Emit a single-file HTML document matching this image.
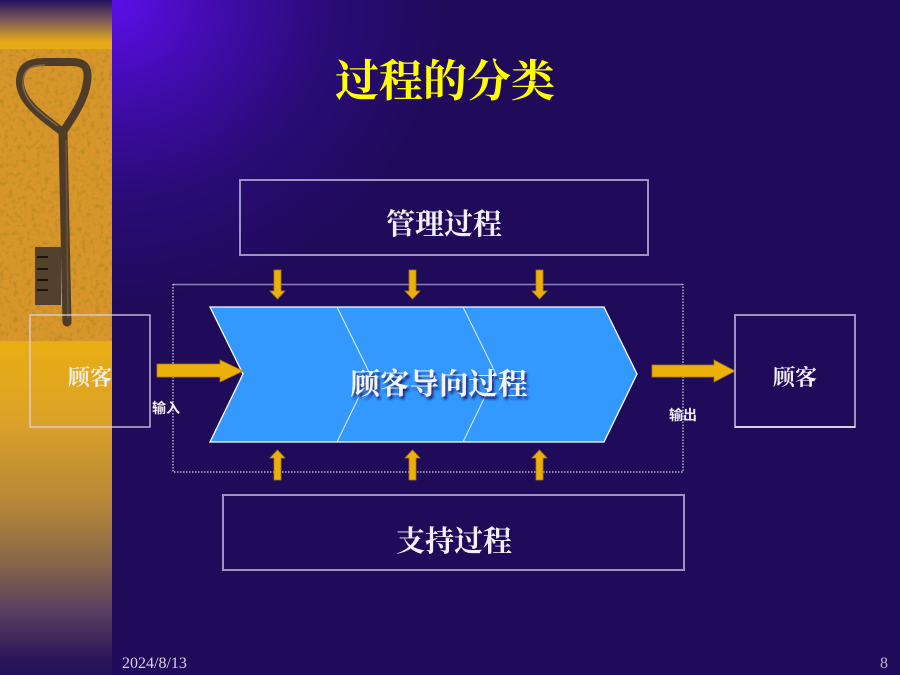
<!DOCTYPE html>
<html><head><meta charset="utf-8"><style>
html,body{margin:0;padding:0;}
body{width:900px;height:675px;overflow:hidden;background:#200b5b;position:relative;font-family:"Liberation Sans","Noto Sans CJK SC",sans-serif;}
#glow{position:absolute;left:112px;top:0;width:788px;height:675px;background:radial-gradient(ellipse 330px 300px at 0 0,#5c0ee8 0%,#3f0ca8 35%,#2a0b78 65%,#200b5b 100%);}
#side{position:absolute;left:0;top:0;width:112px;height:675px;background:linear-gradient(to bottom,#241060 0px,#7a5a58 20px,#e6aa18 42px,#e8ac16 50px,#e8ac16 340px,#e9ad14 345px,#dba228 420px,#b88838 500px,#8a6848 560px,#5a4060 610px,#2c1658 660px,#231058 675px);}
svg{position:absolute;left:0;top:0;}
</style></head><body>
<div id="glow"></div>
<div id="side"></div>
<svg width="900" height="675" viewBox="0 0 900 675" xmlns="http://www.w3.org/2000/svg">
<defs>
<filter id="tex" x="0" y="0" width="100%" height="100%">
<feTurbulence type="fractalNoise" baseFrequency="0.22" numOctaves="2" seed="4" result="n"/>
<feColorMatrix in="n" type="matrix" values="0 0 0 0 0.45  0 0 0 0 0.25  0 0 0 0 0.02  0 0 0 -3 1.55" result="c"/>
<feComposite in="c" in2="SourceGraphic" operator="atop"/>
</filter>
<filter id="sh" x="-10%" y="-30%" width="130%" height="170%">
<feGaussianBlur in="SourceAlpha" stdDeviation="1.2"/>
<feOffset dx="2" dy="3" result="b"/>
<feFlood flood-color="#1a1a6a" flood-opacity="0.9"/>
<feComposite in2="b" operator="in" result="s"/>
<feMerge><feMergeNode in="s"/><feMergeNode in="SourceGraphic"/></feMerge>
</filter>
</defs>
<!-- key image -->
<rect x="0" y="49" width="112" height="292" fill="#d8962a"/>
<rect x="0" y="49" width="112" height="292" fill="#d8962a" filter="url(#tex)" opacity="0.8"/>
<g fill="none" stroke="#4e3b28" stroke-linecap="round">
<path d="M60 130 C40 115 19 100 20 80 C21 65 31 62 45 62 L72 62 C86 62 89 69 87 82 C85 100 72 118 63 132" stroke-width="8"/>
<path d="M63 132 L65 230 L67 322" stroke-width="9"/>
</g>
<path d="M58 126 C40 113 22 100 23 81 C24 68 32 65 45 65" fill="none" stroke="#7d6650" stroke-width="1.5"/>
<rect x="35" y="247" width="26" height="58" fill="#54412d"/>
<g stroke="#1e140c" stroke-width="2">
<line x1="37" y1="257" x2="48" y2="257"/><line x1="37" y1="269" x2="48" y2="269"/><line x1="37" y1="280" x2="48" y2="280"/><line x1="37" y1="290" x2="48" y2="290"/>
</g>
<line x1="66" y1="140" x2="68" y2="318" stroke="#6a5440" stroke-width="1.5"/>

<!-- title -->
<text x="445" y="96" text-anchor="middle" font-family="'Noto Serif CJK SC','Noto Sans CJK SC',serif" font-weight="bold" font-size="44" fill="#ffff00">过程的分类</text>

<!-- management box -->
<rect x="240" y="180" width="408" height="75" fill="none" stroke="#9d92c4" stroke-width="2"/>
<text x="444" y="234" text-anchor="middle" font-family="'Noto Serif CJK SC','Noto Sans CJK SC',serif" font-weight="bold" font-size="29" fill="#f2f0f6">管理过程</text>

<!-- dotted container -->
<line x1="173" y1="284.5" x2="683" y2="284.5" stroke="#8a80b8" stroke-width="1.5"/>
<path d="M173 284 L173 472 L683 472 L683 284" fill="none" stroke="#ffffff" stroke-width="1" stroke-dasharray="1.5,1.5"/>

<!-- chevron -->
<path d="M210 307 L604 307 L637 374 L604 442 L210 442 L243 374 Z" fill="#3499fe" stroke="#ffffff" stroke-width="1.3"/>
<path d="M337 307 L370 374 L337 442" fill="none" stroke="#dfeeff" stroke-width="1"/>
<path d="M463 307 L496 374 L463 442" fill="none" stroke="#dfeeff" stroke-width="1"/>
<text x="439" y="394" text-anchor="middle" font-family="'Noto Serif CJK SC','Noto Sans CJK SC',serif" font-weight="bold" font-size="29.5" fill="#f4f4fa" filter="url(#sh)">顾客导向过程</text>

<!-- down arrows -->
<g fill="#ecb00a" stroke="#b07808" stroke-width="0.8">
<path d="M274 270 L281 270 L281 291 L285 291 L277.5 299 L270 291 L274 291 Z"/>
<path d="M409 270 L416 270 L416 291 L420 291 L412.5 299 L405 291 L409 291 Z"/>
<path d="M536 270 L543 270 L543 291 L547 291 L539.5 299 L532 291 L536 291 Z"/>
<!-- up arrows -->
<path d="M274 480 L281 480 L281 458 L285 458 L277.5 450 L270 458 L274 458 Z"/>
<path d="M409 480 L416 480 L416 458 L420 458 L412.5 450 L405 458 L409 458 Z"/>
<path d="M536 480 L543 480 L543 458 L547 458 L539.5 450 L532 458 L536 458 Z"/>
<!-- left input arrow -->
<path d="M157 364 L220 364 L220 360 L243 371 L220 382 L220 377 L157 377 Z"/>
<!-- right output arrow -->
<path d="M652 365 L714 365 L714 360 L735 371 L714 382 L714 377 L652 377 Z"/>
</g>

<!-- customer boxes -->
<rect x="30" y="315" width="120" height="112" fill="none" stroke="#d8d2e8" stroke-width="1.5" stroke-opacity="0.85"/>
<text x="90" y="385" text-anchor="middle" font-family="'Noto Serif CJK SC','Noto Sans CJK SC',serif" font-weight="bold" font-size="22" fill="#f2eee8">顾客</text>
<rect x="735" y="315" width="120" height="112" fill="none" stroke="#9d92c4" stroke-width="2"/>
<line x1="735" y1="427" x2="855" y2="427" stroke="#e8e4f4" stroke-width="1.5"/>
<text x="795" y="385" text-anchor="middle" font-family="'Noto Serif CJK SC','Noto Sans CJK SC',serif" font-weight="bold" font-size="22" fill="#f2f0f6">顾客</text>

<text x="152" y="413" font-family="'Liberation Sans','Noto Sans CJK SC',sans-serif" font-weight="bold" font-size="14" fill="#f0eef6">输入</text>
<text x="669" y="420" font-family="'Liberation Sans','Noto Sans CJK SC',sans-serif" font-weight="bold" font-size="14" fill="#f0eef6">输出</text>

<!-- support box -->
<rect x="223" y="495" width="461" height="75" fill="none" stroke="#9d92c4" stroke-width="2"/>
<text x="454" y="551" text-anchor="middle" font-family="'Noto Serif CJK SC','Noto Sans CJK SC',serif" font-weight="bold" font-size="29" fill="#f2f0f6">支持过程</text>

<!-- footer -->
<text x="122" y="668" font-family="'Liberation Serif',serif" font-size="16" fill="#d8d2e8">2024/8/13</text>
<text x="880" y="668" font-family="'Liberation Serif',serif" font-size="16" fill="#b8b0d0">8</text>
</svg>
</body></html>
